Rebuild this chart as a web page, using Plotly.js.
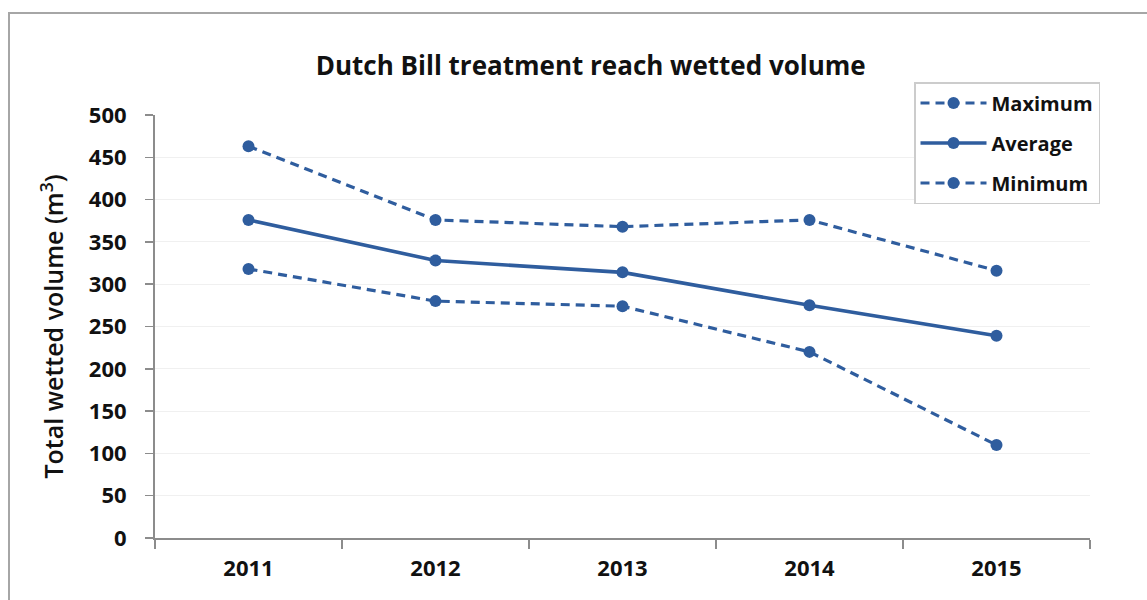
<!DOCTYPE html>
<html>
<head>
<meta charset="utf-8">
<script src="https://cdn.plot.ly/plotly-3.0.1.min.js"></script>
<style>
  html, body { margin: 0; padding: 0; background: #fff; }
  #frame { position: absolute; left: 8px; top: 12px; width: 1160px; height: 600px; border-left: 2px solid #a6a6a6; border-top: 2px solid #a6a6a6; pointer-events: none; z-index: 5; }
  #chart { width: 1147px; height: 600px; }
</style>
</head>
<body>
<div id="frame"></div>
<div id="chart"></div>
<script>
const years = ['2011', '2012', '2013', '2014', '2015'];
const maximum = [463, 376, 368, 376, 316];
const average = [376, 328, 314, 275, 239];
const minimum = [318, 280, 274, 220, 110];
const yTicks = [0, 50, 100, 150, 200, 250, 300, 350, 400, 450, 500];

const blue = '#2f5d9e';
const traces = [
  { x: years, y: maximum, name: 'Maximum', legendgroup: 'a', mode: 'lines+markers',
    line: { color: blue, width: 3.2, dash: '9px,6px' }, marker: { color: blue, size: 12 } },
  { x: years, y: average, name: 'Average', legendgroup: 'b', mode: 'lines+markers',
    line: { color: blue, width: 3.6 }, marker: { color: blue, size: 12 } },
  { x: years, y: minimum, name: 'Minimum', legendgroup: 'c', mode: 'lines+markers',
    line: { color: blue, width: 3.2, dash: '9px,6px' }, marker: { color: blue, size: 12 } }
];

const tickFont = { size: 22, family: 'Open Sans, sans-serif', weight: 'bold', color: '#111' };

const layout = {
  width: 1147, height: 600,
  margin: { l: 155, r: 57, t: 115, b: 62 },
  paper_bgcolor: '#fff', plot_bgcolor: '#fff',
  font: { family: 'Open Sans, sans-serif', color: '#111' },
  title: { text: '<b>Dutch Bill treatment reach wetted volume</b>',
    font: { size: 26, family: 'Open Sans, sans-serif', color: '#111' },
    x: 0.515, xanchor: 'center', y: 0.89, yanchor: 'middle' },
  xaxis: {
    type: 'category', range: [-0.5, 4.5],
    showline: true, linecolor: '#8c8c8c', linewidth: 2,
    ticks: 'outside', tickson: 'boundaries', ticklen: 9, tickcolor: '#8c8c8c', tickwidth: 1.5,
    tickfont: tickFont,
    showgrid: false, zeroline: false, ticklabelstandoff: 10
  },
  yaxis: {
    range: [0, 500], tickvals: yTicks, ticktext: yTicks.map(String),
    showline: true, linecolor: '#8c8c8c', linewidth: 2,
    ticks: 'outside', ticklen: 8, tickcolor: '#8c8c8c', tickwidth: 1.5,
    tickfont: tickFont,
    showgrid: true, gridcolor: '#f0f0f0', gridwidth: 1, zeroline: false,
    ticklabelstandoff: 14,
    title: { text: 'Total wetted volume (m<sup>3</sup>)',
      font: { size: 25, family: 'Open Sans, sans-serif', weight: 600, color: '#111' }, standoff: 18 }
  },
  legend: {
    x: 1.0107, xanchor: 'right', y: 1.078, yanchor: 'top',
    bgcolor: '#fff', bordercolor: '#cccccc', borderwidth: 1.5,
    font: { size: 20, family: 'Open Sans, sans-serif', weight: 'bold', color: '#111' },
    traceorder: 'grouped', tracegroupgap: 11, itemwidth: 66
  },
  showlegend: true
};

Plotly.newPlot('chart', traces, layout, { displayModeBar: false, staticPlot: true });
</script>
</body>
</html>
